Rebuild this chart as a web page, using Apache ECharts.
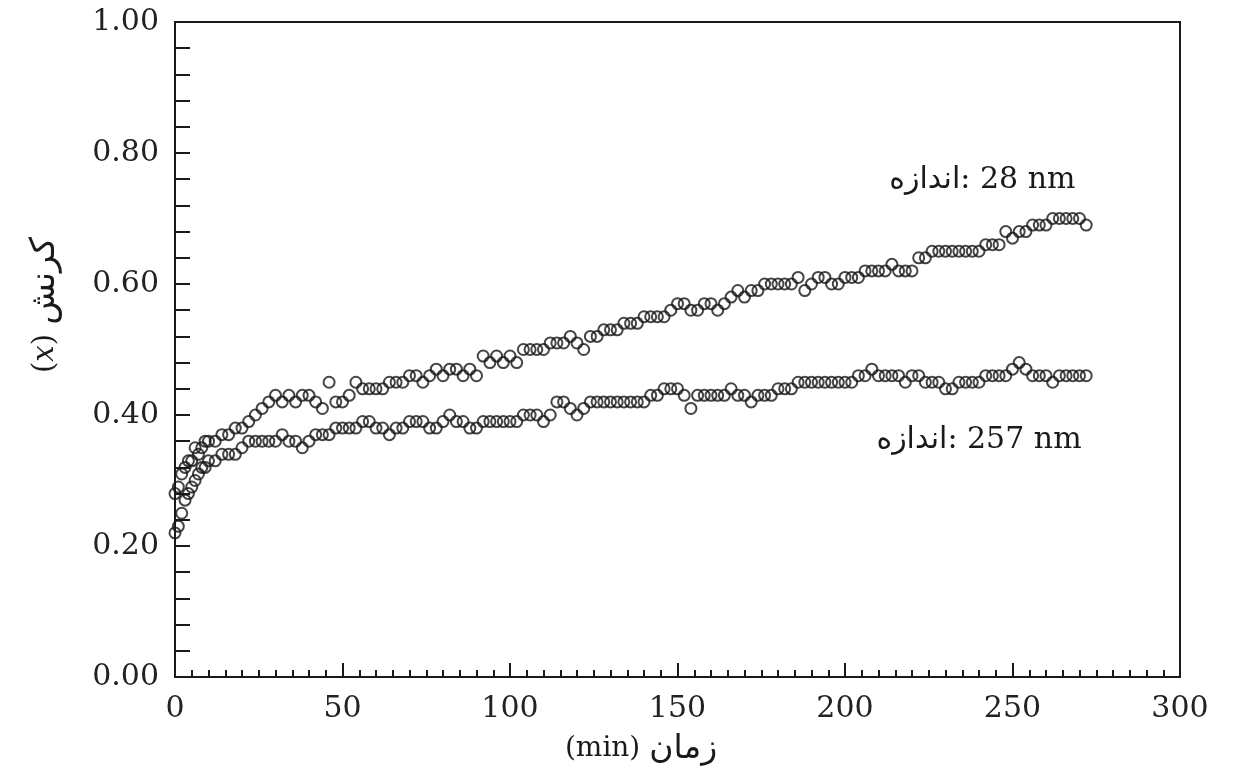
<!DOCTYPE html>
<html>
<head>
<meta charset="utf-8">
<script src="https://cdn.jsdelivr.net/npm/echarts@6/dist/echarts.min.js"></script>
<style>
html,body{margin:0;padding:0;background:#fff;}
#c{width:1242px;height:778px;}
</style>
</head>
<body>
<div id="c"></div>
<script>
// time in minutes
const timeMin = [0,1,2,3,4,5,6,7,8,9,10,12,14,16,18,20,22,24,26,28,30,32,34,36,38,40,42,44,46,48,50,52,54,56,58,60,62,64,66,68,70,72,74,76,78,80,82,84,86,88,90,92,94,96,98,100,102,104,106,108,110,112,114,116,118,120,122,124,126,128,130,132,134,136,138,140,142,144,146,148,150,152,154,156,158,160,162,164,166,168,170,172,174,176,178,180,182,184,186,188,190,192,194,196,198,200,202,204,206,208,210,212,214,216,218,220,222,224,226,228,230,232,234,236,238,240,242,244,246,248,250,252,254,256,258,260,262,264,266,268,270,272];
// strain, size 28 nm
const strain28 = [0.28,0.29,0.31,0.32,0.33,0.33,0.35,0.34,0.35,0.36,0.36,0.36,0.37,0.37,0.38,0.38,0.39,0.40,0.41,0.42,0.43,0.42,0.43,0.42,0.43,0.43,0.42,0.41,0.45,0.42,0.42,0.43,0.45,0.44,0.44,0.44,0.44,0.45,0.45,0.45,0.46,0.46,0.45,0.46,0.47,0.46,0.47,0.47,0.46,0.47,0.46,0.49,0.48,0.49,0.48,0.49,0.48,0.50,0.50,0.50,0.50,0.51,0.51,0.51,0.52,0.51,0.50,0.52,0.52,0.53,0.53,0.53,0.54,0.54,0.54,0.55,0.55,0.55,0.55,0.56,0.57,0.57,0.56,0.56,0.57,0.57,0.56,0.57,0.58,0.59,0.58,0.59,0.59,0.60,0.60,0.60,0.60,0.60,0.61,0.59,0.60,0.61,0.61,0.60,0.60,0.61,0.61,0.61,0.62,0.62,0.62,0.62,0.63,0.62,0.62,0.62,0.64,0.64,0.65,0.65,0.65,0.65,0.65,0.65,0.65,0.65,0.66,0.66,0.66,0.68,0.67,0.68,0.68,0.69,0.69,0.69,0.70,0.70,0.70,0.70,0.70,0.69];
// strain, size 257 nm
const strain257 = [0.22,0.23,0.25,0.27,0.28,0.29,0.30,0.31,0.32,0.32,0.33,0.33,0.34,0.34,0.34,0.35,0.36,0.36,0.36,0.36,0.36,0.37,0.36,0.36,0.35,0.36,0.37,0.37,0.37,0.38,0.38,0.38,0.38,0.39,0.39,0.38,0.38,0.37,0.38,0.38,0.39,0.39,0.39,0.38,0.38,0.39,0.40,0.39,0.39,0.38,0.38,0.39,0.39,0.39,0.39,0.39,0.39,0.40,0.40,0.40,0.39,0.40,0.42,0.42,0.41,0.40,0.41,0.42,0.42,0.42,0.42,0.42,0.42,0.42,0.42,0.42,0.43,0.43,0.44,0.44,0.44,0.43,0.41,0.43,0.43,0.43,0.43,0.43,0.44,0.43,0.43,0.42,0.43,0.43,0.43,0.44,0.44,0.44,0.45,0.45,0.45,0.45,0.45,0.45,0.45,0.45,0.45,0.46,0.46,0.47,0.46,0.46,0.46,0.46,0.45,0.46,0.46,0.45,0.45,0.45,0.44,0.44,0.45,0.45,0.45,0.45,0.46,0.46,0.46,0.46,0.47,0.48,0.47,0.46,0.46,0.46,0.45,0.46,0.46,0.46,0.46,0.46];

const seriesNames = ['28 nm', '257 nm'];
const labelWord = 'اندازه';
const xTitleWord = 'زمان';
const yTitleWord = 'کرنش';
const yTickLabels = ['0.00','0.20','0.40','0.60','0.80','1.00'];
const xTickLabels = ['0','50','100','150','200','250','300'];
// annotation anchor positions (data coords)
const label28At = [241, 0.759];
const label257At = [240, 0.362];

const SERIF = '"DejaVu Serif", "DejaVu Sans", serif';
const chart = echarts.init(document.getElementById('c'), null, {renderer: 'canvas'});

function pts(ys){ return timeMin.map((t,i)=>[t, ys[i]]); }

const markerStyle = {color: 'rgba(255,255,255,0)', borderColor: '#161616', borderWidth: 2};

function ann(pos, name){
  return {
    symbol: 'circle', symbolSize: 0, silent: true,
    data: [{coord: pos}],
    label: {
      show: true, position: 'inside',
      formatter: '{p|' + labelWord + '}{t|: ' + name + '}',
      rich: {
        p: {fontFamily: '"DejaVu Sans", sans-serif', fontSize: 30, color: '#1a1a1a'},
        t: {fontFamily: SERIF, fontSize: 30, color: '#1a1a1a'}
      }
    }
  };
}

chart.setOption({
  animation: false,
  backgroundColor: '#fff',
  grid: {left: 175, right: 62, top: 22, bottom: 101, show: true, borderColor: '#1a1a1a', borderWidth: 2, backgroundColor: 'transparent'},
  xAxis: {
    type: 'value', min: 0, max: 300, interval: 50,
    axisLine: {show: true, lineStyle: {color: '#1a1a1a', width: 2}},
    axisTick: {show: true, inside: true, length: 14, lineStyle: {color: '#1a1a1a', width: 2}},
    minorTick: {show: true, splitNumber: 10, length: 7, lineStyle: {color: '#1a1a1a', width: 2}},
    splitLine: {show: false},
    axisLabel: {margin: 17, fontFamily: SERIF, fontSize: 30, color: '#222',
      formatter: v => xTickLabels[Math.round(v/50)]}
  },
  yAxis: {
    type: 'value', min: 0, max: 1, interval: 0.2,
    axisLine: {show: true, lineStyle: {color: '#1a1a1a', width: 2}},
    axisTick: {show: true, inside: true, length: 15, lineStyle: {color: '#1a1a1a', width: 2}},
    minorTick: {show: true, splitNumber: 5, length: 15, lineStyle: {color: '#1a1a1a', width: 2}},
    splitLine: {show: false},
    axisLabel: {margin: 16, fontFamily: SERIF, fontSize: 30, color: '#222',
      formatter: v => yTickLabels[Math.round(v/0.2)]}
  },
  series: [
    {name: seriesNames[0], type: 'scatter', data: pts(strain28), symbol: 'circle', symbolSize: 11,
      itemStyle: markerStyle, markPoint: ann(label28At, seriesNames[0])},
    {name: seriesNames[1], type: 'scatter', data: pts(strain257), symbol: 'circle', symbolSize: 11,
      itemStyle: markerStyle, markPoint: ann(label257At, seriesNames[1])}
  ],
  graphic: [
    {type: 'text', x: 641, y: 749, style: {
      text: '{a|(min) }{b|' + xTitleWord + '}',
      align: 'center', verticalAlign: 'middle',
      rich: {a: {fontFamily: SERIF, fontSize: 28, fill: '#1a1a1a'},
             b: {fontFamily: '"DejaVu Sans", sans-serif', fontSize: 33, fill: '#1a1a1a'}}
    }},
    {type: 'text', x: 45, y: 305, rotation: Math.PI/2, style: {
      text: '{a|(}{i|x}{a|) }{b|' + yTitleWord + '}',
      align: 'center', verticalAlign: 'middle',
      rich: {a: {fontFamily: SERIF, fontSize: 29, fill: '#1a1a1a'},
             i: {fontFamily: SERIF, fontStyle: 'italic', fontSize: 29, fill: '#1a1a1a'},
             b: {fontFamily: '"DejaVu Sans", sans-serif', fontSize: 34, fill: '#1a1a1a'}}
    }}
  ]
});
</script>
</body>
</html>
